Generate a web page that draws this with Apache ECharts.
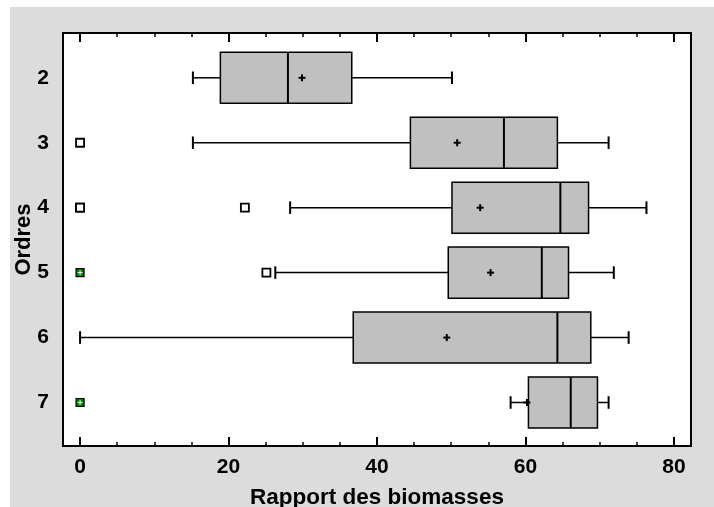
<!DOCTYPE html>
<html>
<head>
<meta charset="utf-8">
<script src="https://cdn.jsdelivr.net/npm/echarts@6/dist/echarts.min.js"></script>
<style>
  html, body { margin: 0; padding: 0; background: #ffffff; }
  #chart { width: 714px; height: 507px; }
</style>
</head>
<body>
<div id="chart"></div>
<script>
// Ordres (rows of the box plot)
const categories = [2, 3, 4, 5, 6, 7];
// Five-number summaries per order
const whiskerLow  = [15.2, 15.2, 28.3, 26.3, 0.0, 58.0];
const quartile1   = [18.9, 44.5, 50.1, 49.6, 36.8, 60.4];
const medians     = [28.0, 57.1, 64.7, 62.2, 64.3, 66.1];
const quartile3   = [36.6, 64.3, 68.5, 65.8, 68.8, 69.7];
const whiskerHigh = [50.1, 71.2, 76.3, 71.9, 73.9, 71.2];
const means       = [29.9, 50.8, 53.9, 55.3, 49.4, 60.2];
// Outside points: [value, order]
const mildOutliers = [[0, 3], [0, 4], [0, 4], [22.2, 4], [25.1, 5]];
const farOutliers  = [[0, 5], [0, 7]];
// Axis ticks
const xMajorTicks = [0, 20, 40, 60, 80];
const xMinorTicks = [5, 10, 15, 25, 30, 35, 45, 50, 55, 65, 70, 75];

const FONT = "'Liberation Sans', Arial, sans-serif";
const BOX_HALF = 0.393;
const CAP_HALF = 0.097;
const X_MIN = -2.3, X_MAX = 82.3;

const boxRows = categories.map((c, i) => [c, whiskerLow[i], quartile1[i], medians[i], quartile3[i], whiskerHigh[i], means[i]]);

function line(x1, y1, x2, y2, w) {
  return { type: 'line', shape: { x1, y1, x2, y2 }, style: { stroke: '#000', lineWidth: w } };
}

function renderBox(params, api) {
  const y = api.value(0);
  const pLo = api.coord([api.value(1), y]);
  const pQ1 = api.coord([api.value(2), y]);
  const pMed = api.coord([api.value(3), y]);
  const pQ3 = api.coord([api.value(4), y]);
  const pHi = api.coord([api.value(5), y]);
  const pMean = api.coord([api.value(6), y]);
  const h = api.size([0, BOX_HALF])[1];
  const c = api.size([0, CAP_HALF])[1];
  const cy = pQ1[1];
  return {
    type: 'group',
    children: [
      line(pLo[0], cy, pQ1[0], cy, 1.5),
      line(pQ3[0], cy, pHi[0], cy, 1.5),
      line(pLo[0], cy - c, pLo[0], cy + c, 2),
      line(pHi[0], cy - c, pHi[0], cy + c, 2),
      { type: 'rect', shape: { x: pQ1[0], y: cy - h, width: pQ3[0] - pQ1[0], height: 2 * h },
        style: { fill: '#c0c0c0', stroke: '#000', lineWidth: 1.5 } },
      line(pMed[0], cy - h, pMed[0], cy + h, 2),
      line(pMean[0] - 3.5, cy, pMean[0] + 3.5, cy, 2),
      line(pMean[0], cy - 3.5, pMean[0], cy + 3.5, 2)
    ]
  };
}

function renderFar(params, api) {
  const p = api.coord([api.value(0), api.value(1)]);
  const s = 4;
  return {
    type: 'group',
    children: [
      { type: 'rect', shape: { x: p[0] - s, y: p[1] - s, width: 2 * s, height: 2 * s },
        style: { fill: '#008000', stroke: '#000', lineWidth: 1.2 } },
      { type: 'line', shape: { x1: p[0] - 2.5, y1: p[1], x2: p[0] + 2.5, y2: p[1] }, style: { stroke: '#fff', lineWidth: 1 } },
      { type: 'line', shape: { x1: p[0], y1: p[1] - 2.5, x2: p[0], y2: p[1] + 2.5 }, style: { stroke: '#fff', lineWidth: 1 } }
    ]
  };
}

function tickAxis(position, values, len, width, extra) {
  return Object.assign({
    type: 'value', position: position, min: X_MIN, max: X_MAX,
    axisLine: { show: false, onZero: false },
    splitLine: { show: false },
    axisTick: { show: true, inside: true, length: len, customValues: values,
                lineStyle: { color: '#000', width: width } },
    axisLabel: { show: false }
  }, extra || {});
}

const chart = echarts.init(document.getElementById('chart'));
chart.setOption({
  animation: false,
  graphic: [{
    type: 'rect', left: 10, top: 7, z: -10,
    shape: { width: 704, height: 500 },
    style: { fill: '#dcdcdc' }
  }],
  grid: {
    left: 63, top: 33, right: 23, bottom: 61,
    outerBoundsMode: 'none',
    show: true, backgroundColor: '#ffffff', borderColor: '#000', borderWidth: 2
  },
  xAxis: [
    tickAxis('bottom', xMajorTicks, 9, 2, {
      axisLabel: { show: true, customValues: xMajorTicks, margin: 11,
                   fontSize: 21, fontWeight: 'bold', color: '#000', fontFamily: FONT },
      name: 'Rapport des biomasses', nameLocation: 'middle', nameGap: 40, nameMoveOverlap: false,
      nameTextStyle: { fontSize: 22.5, fontWeight: 'bold', color: '#000', fontFamily: FONT }
    }),
    tickAxis('bottom', xMinorTicks, 4, 1.5),
    tickAxis('top', xMajorTicks, 9, 2),
    tickAxis('top', xMinorTicks, 4, 1.5)
  ],
  yAxis: {
    type: 'value', inverse: true, min: 1.31, max: 7.67,
    axisLine: { show: false, onZero: false },
    axisTick: { show: false },
    splitLine: { show: false },
    axisLabel: { customValues: categories, margin: 14,
                 fontSize: 21, fontWeight: 'bold', color: '#000', fontFamily: FONT },
    name: 'Ordres', nameLocation: 'middle', nameGap: 28, nameRotate: 90, nameMoveOverlap: false,
    nameTextStyle: { fontSize: 22, fontWeight: 'bold', color: '#000', fontFamily: FONT }
  },
  series: [
    {
      type: 'custom', xAxisIndex: 0, renderItem: renderBox,
      encode: { x: [1, 2, 3, 4, 5, 6], y: 0 },
      data: boxRows, z: 3
    },
    {
      type: 'scatter', xAxisIndex: 0, symbol: 'rect', symbolSize: 8,
      itemStyle: { color: '#ffffff', borderColor: '#000', borderWidth: 1.8, opacity: 1 },
      data: mildOutliers, z: 4
    },
    {
      type: 'custom', xAxisIndex: 0, renderItem: renderFar,
      encode: { x: 0, y: 1 },
      data: farOutliers, z: 4
    }
  ]
});
</script>
</body>
</html>
